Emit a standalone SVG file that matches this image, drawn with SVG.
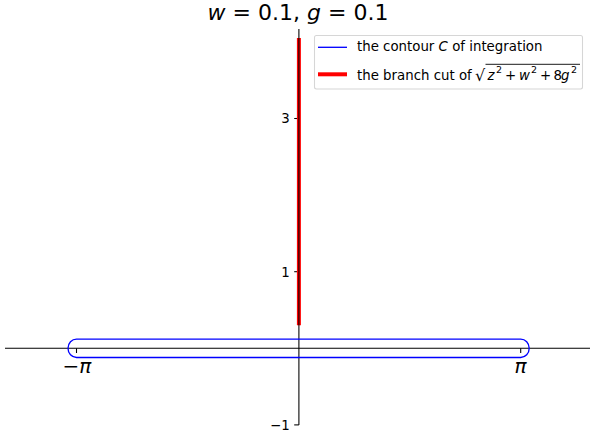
<svg xmlns="http://www.w3.org/2000/svg" width="590" height="441" viewBox="0 0 590 441">
<style>
.t{font-family:"DejaVu Sans","Liberation Sans",sans-serif;fill:#000}
.i{font-style:italic}
.tick{font-size:13.33px}
.spine{stroke:#000;stroke-width:1.07;fill:none}
</style>
<rect width="590" height="441" fill="#fff"/>
<g id="axes">
<line class="spine" x1="5" y1="348.3" x2="590" y2="348.3"/>
<line class="spine" x1="298.9" y1="29" x2="298.9" y2="424.9"/>
<g class="spine">
<line x1="76.5" y1="348.3" x2="76.5" y2="353"/>
<line x1="520.7" y1="348.3" x2="520.7" y2="353"/>
<line x1="294.2" y1="118.5" x2="298.9" y2="118.5"/>
<line x1="294.2" y1="271.7" x2="298.9" y2="271.7"/>
<line x1="294.2" y1="424.9" x2="298.9" y2="424.9"/>
</g>
<text class="t tick" x="289.7" y="123.4" text-anchor="end">3</text>
<text class="t tick" x="289.7" y="276.6" text-anchor="end">1</text>
<text class="t tick" x="289.7" y="429.8" text-anchor="end">−1</text>
<text class="t" x="77" y="372.6" font-size="20" text-anchor="middle">−<tspan class="i">π</tspan></text>
<text class="t i" x="520.5" y="372.6" font-size="20" text-anchor="middle">π</text>
</g>
<g id="connectors">
<path id="contour" d="M76.5,339.1 L520.7,339.1 A8.5,9.2 0 0 1 520.7,357.5 L76.5,357.5 A8.5,9.2 0 0 1 76.5,339.1 Z" fill="none" stroke="#0000ff" stroke-width="1.33"/>
<line id="branchcut" x1="298.9" y1="38" x2="298.9" y2="325.3" stroke="#ff0000" stroke-width="4"/>
<line x1="298.9" y1="38" x2="298.9" y2="325.3" stroke="#000" stroke-width="1.07"/>
</g>
<g id="title">
<text class="t" x="298" y="20" font-size="22" text-anchor="middle"><tspan class="i">w</tspan> = 0.1, <tspan class="i">g</tspan> = 0.1</text>
</g>
<g id="legend">
<rect x="314.5" y="35.5" width="268" height="53.5" rx="2" fill="#fff" fill-opacity="0.8" stroke="#d6d6d6" stroke-width="1.07"/>
<line x1="318" y1="47.3" x2="347" y2="47.3" stroke="#0000ff" stroke-width="1.33"/>
<line x1="318" y1="74.3" x2="347" y2="74.3" stroke="#ff0000" stroke-width="4"/>
<text class="t" x="357" y="50.7" font-size="13.33">the contour <tspan class="i">C</tspan> of integration</text>
<text class="t" x="357" y="79.5" font-size="13.33">the branch cut of</text>
<text class="t" x="475" y="81" font-size="16">√</text>
<line x1="485.5" y1="64.3" x2="580" y2="64.3" stroke="#000" stroke-width="0.9"/>
<text class="t" y="79.5" font-size="13.33"><tspan class="i" x="487.5">z</tspan><tspan x="505">+</tspan><tspan class="i" x="519">w</tspan><tspan x="540">+</tspan><tspan x="553.5">8</tspan><tspan class="i" x="561">g</tspan></text>
<text class="t" y="73" font-size="9.5"><tspan x="496">2</tspan><tspan x="531">2</tspan><tspan x="571">2</tspan></text>
</g>
</svg>
